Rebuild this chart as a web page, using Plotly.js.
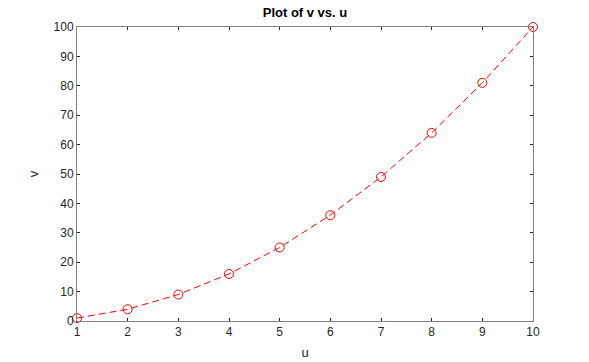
<!DOCTYPE html>
<html>
<head>
<meta charset="utf-8">
<script src="https://cdn.plot.ly/plotly-3.0.1.min.js"></script>
<style>html,body{margin:0;padding:0;background:#fff;}#chart{width:589px;height:362px;}</style>
</head>
<body>
<div id="chart"></div>
<script>
const u = [1, 2, 3, 4, 5, 6, 7, 8, 9, 10];
const v = [1, 4, 9, 16, 25, 36, 49, 64, 81, 100];
const xTicks = [1, 2, 3, 4, 5, 6, 7, 8, 9, 10];
const yTicks = [0, 10, 20, 30, 40, 50, 60, 70, 80, 90, 100];

const trace = {
  x: u, y: v, type: 'scatter', mode: 'lines+markers', cliponaxis: false,
  line: {color: '#ff0000', width: 1, dash: '7px,4px'},
  marker: {symbol: 'circle-open', size: 9, color: '#ff0000', line: {width: 1, color: '#ff0000'}},
  hoverinfo: 'none'
};

const axisCommon = {
  showline: true, linecolor: '#808080', linewidth: 1, mirror: 'ticks',
  ticks: 'inside', ticklen: 3, tickcolor: '#262626', tickwidth: 1,
  showgrid: false, zeroline: false,
  tickfont: {family: 'Liberation Sans, Arial, sans-serif', size: 12, color: '#262626'}
};

const layout = {
  width: 589, height: 362,
  margin: {l: 77, r: 56, t: 27, b: 41},
  paper_bgcolor: '#ffffff', plot_bgcolor: '#ffffff',
  showlegend: false,
  title: {text: '<b>Plot of v vs. u</b>', x: 0.5, xref: 'paper', y: 0.965, yref: 'container', yanchor: 'middle',
    font: {family: 'Liberation Sans, Arial, sans-serif', size: 13, color: '#000000'}},
  xaxis: Object.assign({}, axisCommon, {
    range: [1, 10], tickvals: xTicks, ticktext: xTicks.map(String),
    title: {text: 'u', standoff: 9, font: {family: 'Liberation Sans, Arial, sans-serif', size: 13, color: '#262626'}}
  }),
  yaxis: Object.assign({}, axisCommon, {
    range: [0, 100], tickvals: yTicks, ticktext: yTicks.map(String),
    title: {text: 'v', standoff: 12, font: {family: 'Liberation Sans, Arial, sans-serif', size: 13, color: '#262626'}}
  })
};

Plotly.newPlot('chart', [trace], layout, {displayModeBar: false, staticPlot: true});
</script>
</body>
</html>
